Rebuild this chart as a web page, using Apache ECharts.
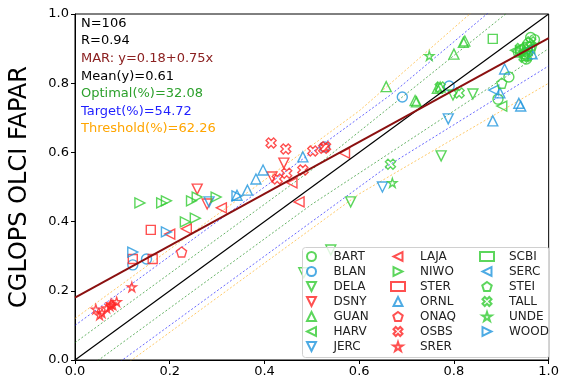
<!DOCTYPE html>
<html>
<head>
<meta charset="utf-8">
<script src="https://cdn.jsdelivr.net/npm/echarts@6/dist/echarts.min.js"></script>
<style>
  html, body { margin: 0; padding: 0; background: #fff; }
  #container { width: 562px; height: 383px; }
</style>
</head>
<body>
<div id="container"></div>
<script>
// site names in legend order
const sites = ['BART', 'BLAN', 'DELA', 'DSNY', 'GUAN', 'HARV', 'JERC',
  'LAJA', 'NIWO', 'STER', 'ORNL', 'ONAQ', 'OSBS', 'SRER',
  'SCBI', 'SERC', 'STEI', 'TALL', 'UNDE', 'WOOD'];

// [reference, CGLOPS] pairs per site
const bart = [[0.916, 0.818], [0.893, 0.754], [0.962, 0.932], [0.97, 0.926], [0.957, 0.915], [0.953, 0.87], [0.948, 0.9]];
const blan = [[0.122, 0.275], [0.151, 0.292], [0.527, 0.616], [0.691, 0.76], [0.79, 0.792]];
const dela = [[0.582, 0.457], [0.773, 0.59], [0.798, 0.766], [0.84, 0.769], [0.483, 0.252], [0.54, 0.318]];
const dsny = [[0.258, 0.494], [0.279, 0.451], [0.441, 0.569], [0.416, 0.529]];
const guan = [[0.721, 0.746], [0.718, 0.75], [0.8, 0.884], [0.823, 0.922], [0.82, 0.918], [0.771, 0.789], [0.765, 0.785], [0.657, 0.79], [0.952, 0.88]];
const harv = [[0.901, 0.734], [0.93, 0.895], [0.945, 0.88], [0.96, 0.9]];
const jerc = [[0.283, 0.457], [0.649, 0.5], [0.788, 0.697]];
const laja = [[0.309, 0.44], [0.235, 0.379], [0.2, 0.364], [0.458, 0.512], [0.473, 0.457], [0.569, 0.598]];
const niwo = [[0.137, 0.454], [0.183, 0.454], [0.193, 0.46], [0.246, 0.46], [0.258, 0.471], [0.298, 0.471], [0.233, 0.399], [0.254, 0.41]];
const ster = [[0.16, 0.376], [0.122, 0.292], [0.164, 0.292]];
const ornl = [[0.342, 0.476], [0.364, 0.491], [0.382, 0.523], [0.397, 0.549], [0.481, 0.587], [0.882, 0.691], [0.897, 0.772], [0.907, 0.841], [0.941, 0.734], [0.937, 0.742], [0.965, 0.885]];
const onaq = [[0.225, 0.312]];
const osbs = [[0.414, 0.627], [0.445, 0.61], [0.502, 0.604], [0.529, 0.616], [0.525, 0.612], [0.447, 0.54], [0.427, 0.523], [0.481, 0.549]];
const srer = [[0.12, 0.211], [0.044, 0.147], [0.052, 0.13], [0.057, 0.136], [0.067, 0.15], [0.074, 0.156], [0.08, 0.159], [0.088, 0.168], [0.076, 0.162]];
const scbi = [[0.882, 0.928], [0.94, 0.895], [0.955, 0.905]];
const serc = [[0.884, 0.78], [0.955, 0.895]];
const stei = [[0.901, 0.8], [0.935, 0.89], [0.95, 0.885], [0.965, 0.91]];
const tall = [[0.666, 0.566], [0.771, 0.789], [0.811, 0.772], [0.94, 0.9], [0.955, 0.89], [0.948, 0.875], [0.962, 0.92]];
const unde = [[0.67, 0.512], [0.748, 0.879], [0.945, 0.89]];
const wood = [[0.342, 0.474], [0.193, 0.37], [0.122, 0.312]];
const siteValues = [bart, blan, dela, dsny, guan, harv, jerc, laja, niwo, ster, ornl, onaq, osbs, srer, scbi, serc, stei, tall, unde, wood];

// regression (MAR) and uncertainty requirements: max(abs, rel*x)
const marLine = { intercept: 0.18, slope: 0.75 };
const optimalReq = { abs: 0.05, rel: 0.10 };
const targetReq = { abs: 0.10, rel: 0.15 };
const thresholdReq = { abs: 0.12, rel: 0.20 };

// annotation texts
const statsText = ['N=106', 'R=0.94', 'MAR: y=0.18+0.75x', 'Mean(y)=0.61',
  'Optimal(%)=32.08', 'Target(%)=54.72', 'Threshold(%)=62.26'];

const GREEN = '#33cc33', BLUE = '#2196dd', RED = '#ff2424';
const shapes = {
  circle: 'circle',
  up: 'path://M1,0L2,2L0,2Z',
  down: 'path://M0,0L2,0L1,2Z',
  left: 'path://M2,0L2,2L0,1Z',
  right: 'path://M0,0L0,2L2,1Z',
  square: 'rect',
  pentagon: 'path://M0,-1L0.951,-0.309L0.588,0.809L-0.588,0.809L-0.951,-0.309Z',
  cross: 'path://M-0.5,-1L0,-0.5L0.5,-1L1,-0.5L0.5,0L1,0.5L0.5,1L0,0.5L-0.5,1L-1,0.5L-0.5,0L-1,-0.5Z',
  star: 'path://M0,-1L0.2245,-0.309L0.951,-0.309L0.363,0.118L0.588,0.809L0,0.382L-0.588,0.809L-0.363,0.118L-0.951,-0.309L-0.2245,-0.309Z'
};
const siteStyle = [
  [GREEN, 'circle'], [BLUE, 'circle'], [GREEN, 'down'], [RED, 'down'], [GREEN, 'up'], [GREEN, 'left'], [BLUE, 'down'],
  [RED, 'left'], [GREEN, 'right'], [RED, 'square'], [BLUE, 'up'], [RED, 'pentagon'], [RED, 'cross'], [RED, 'star'],
  [GREEN, 'square'], [BLUE, 'left'], [GREEN, 'pentagon'], [GREEN, 'cross'], [GREEN, 'star'], [BLUE, 'right']
];

function envelope(req, sign) {
  const b = req.abs / req.rel;
  return [[0, sign * req.abs], [b, b + sign * req.abs], [1, 1 + sign * req.rel]];
}
function dashLine(data, color) {
  return {
    type: 'line', data: data, symbol: 'none', silent: true, z: 1,
    lineStyle: { color: color, width: 0.8, type: [2, 2], opacity: 0.75 }
  };
}

const series = [];
[[optimalReq, 'green'], [targetReq, '#0000ff'], [thresholdReq, 'orange']].forEach(([req, c]) => {
  series.push(dashLine(envelope(req, 1), c));
  series.push(dashLine(envelope(req, -1), c));
});
series.push({
  type: 'line', data: [[0, 0], [1, 1]], symbol: 'none', silent: true, z: 3,
  lineStyle: { color: '#000', width: 1.2 }
});
sites.forEach((name, i) => {
  const [c, s] = siteStyle[i];
  series.push({
    name: name, type: 'scatter', data: siteValues[i], z: 2,
    symbol: shapes[s],
    symbolSize: s === 'square' ? 9 : (s === 'star' ? 9 : 10),
    itemStyle: { color: 'rgba(255,255,255,0)', borderColor: c, borderWidth: 1.4 }
  });
});
series.push({
  type: 'line', data: [[0, marLine.intercept], [1, marLine.intercept + marLine.slope]],
  symbol: 'none', silent: true, z: 3,
  lineStyle: { color: '#8b1010', width: 2 }
});

const statsColors = ['#000', '#000', '#8b2020', '#000', '#2ca02c', '#1f1fff', '#ffa500'];

const chart = echarts.init(document.getElementById('container'));
chart.setOption({
  animation: false,
  textStyle: { fontFamily: 'DejaVu Sans' },
  grid: { left: 75, right: 11, top: 14, bottom: 23, show: true, borderColor: '#000', borderWidth: 1 },
  xAxis: {
    type: 'value', min: 0, max: 1, interval: 0.2,
    axisLine: { lineStyle: { color: '#000' } },
    axisTick: { length: 4, lineStyle: { color: '#000' } },
    axisLabel: { color: '#000', fontSize: 13, margin: 5, formatter: (v) => v.toFixed(1) },
    splitLine: { show: false }
  },
  yAxis: {
    type: 'value', min: 0, max: 1, interval: 0.2,
    name: 'CGLOPS OLCI FAPAR', nameLocation: 'middle', nameGap: 43,
    nameTextStyle: { fontSize: 24, color: '#000' },
    axisLine: { lineStyle: { color: '#000' } },
    axisTick: { length: 4, lineStyle: { color: '#000' } },
    axisLabel: { color: '#000', fontSize: 13, margin: 6, formatter: (v) => v.toFixed(1) },
    splitLine: { show: false }
  },
  legend: {
    data: sites, orient: 'vertical', left: 302, top: 248, height: 103,
    padding: [2, 4, 2, 4], itemGap: 2, itemWidth: 14, itemHeight: 9,
    textStyle: { fontSize: 12, color: '#222', width: 57, padding: [0, 0, 0, 10], lineHeight: 13 },
    selectedMode: false, z: 5
  },
  graphic: [
    {
      type: 'rect', left: 302, top: 247, z: 4, silent: true,
      shape: { width: 247, height: 110, r: 3 },
      style: { fill: 'rgba(255,255,255,0.8)', stroke: '#d0d0d0', lineWidth: 1 }
    }
  ].concat(statsText.map((t, i) => ({
    type: 'text', left: 81, top: 17 + i * 17.6, z: 6, silent: true,
    style: { text: t, fill: statsColors[i], font: '13px "DejaVu Sans"' }
  }))),
  series: series
});
</script>
</body>
</html>
